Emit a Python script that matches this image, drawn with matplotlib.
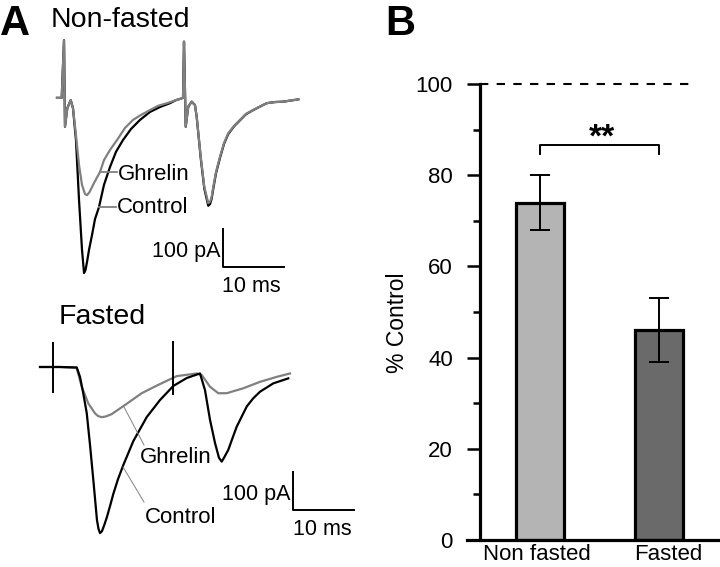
import matplotlib
matplotlib.use("Agg")
import matplotlib.pyplot as plt
from matplotlib.transforms import blended_transform_factory
from matplotlib.lines import Line2D

plt.rcParams['font.family'] = ['Liberation Sans', 'DejaVu Sans']

# ---------------- data ----------------
# Panel A, Non-fasted traces (time in ms, current in pA)
nf_ctrl_t = [0, 0.77, 1.15, 1.31, 1.69, 2.25, 2.62, 3.11, 3.61, 4.10, 4.43, 4.67, 4.92, 5.25, 5.74,
             6.23, 6.89, 7.70, 8.69, 9.67, 10.82, 12.13, 13.61, 15.25, 16.89, 18.52, 19.51, 20.33,
             20.66, 20.82, 21.10, 21.52, 22.08, 22.62, 22.90, 23.56, 24.15, 24.80, 25.10, 25.36,
             25.62, 26.07, 26.72, 27.38, 28.08, 29.02, 30.00, 30.98, 32.18, 33.28, 34.38, 35.74,
             37.10, 39.56]
nf_ctrl_i = [3, 3, 155, -73, -24, -3, -24, -108, -266, -397, -458, -450, -429, -397, -358,
             -316, -284, -226, -179, -139, -108, -79, -55, -34, -21, -11, -3, 1,
             3, 151, -73, -20, -7, -16, -47, -155, -236, -281, -276, -262,
             -236, -195, -155, -118, -92, -72, -56, -40, -29, -20, -11, -8,
             -7, -1]
nf_ghr_t = [0, 0.77, 1.15, 1.31, 1.69, 2.25, 2.62, 3.11, 3.61, 4.10, 4.59, 4.92, 5.33, 6.07,
            7.05, 7.70, 8.69, 9.84, 11.15, 12.46, 13.77, 15.25, 16.56, 18.03, 19.51, 20.33,
            20.66, 20.82, 21.10, 21.52, 22.08, 22.62, 22.90, 23.56, 24.15, 24.80, 25.10, 25.36,
            25.62, 26.07, 26.72, 27.38, 28.08, 29.02, 30.00, 30.98, 32.18, 33.28, 34.38, 35.74,
            37.10, 39.56]
nf_ghr_i = [3, 3, 155, -73, -24, -3, -24, -95, -174, -226, -250, -253, -245, -221,
            -192, -161, -134, -108, -76, -55, -42, -29, -18, -11, -3, 1,
            3, 151, -73, -20, -7, -16, -47, -152, -231, -274, -270, -257,
            -231, -192, -152, -116, -90, -71, -55, -39, -29, -20, -11, -8,
            -7, -1]

# Panel A, Fasted traces
f_ctrl_t = [0, 3.28, 6.02, 6.56, 7.05, 7.66, 8.20, 8.74, 9.34, 9.59, 9.84, 10.16, 10.49, 10.93,
            11.48, 12.02, 12.79, 13.66, 15.30, 17.49, 19.67, 21.85, 24.05, 26.23, 27.05, 27.87,
            28.69, 29.34, 29.79, 30.16, 30.87, 31.56, 32.25, 33.89, 34.92, 36.07, 38.25, 40.70]
f_ctrl_i = [0, 0, -1, -26, -66, -121, -205, -297, -403, -426, -437, -432, -418, -397,
            -366, -334, -295, -258, -195, -132, -87, -50, -29, -17, -61, -139,
            -200, -239, -249, -239, -218, -187, -157, -104, -83, -65, -43, -30]
f_ghr_t = [0, 3.28, 6.02, 6.84, 7.92, 9.02, 9.51, 10.11, 10.82, 11.75, 13.93, 16.67, 19.39,
           22.41, 25.69, 26.51, 27.87, 29.23, 30.61, 33.33, 36.07, 38.80, 40.98]
f_ghr_i = [0, 0, -3, -52, -96, -122, -129, -132, -130, -124, -100, -69, -47,
           -24, -17, -21, -52, -69, -69, -56, -39, -26, -17]
f_artifact_t = [2.08, 21.85]
f_artifact_top = [67, 68]
f_artifact_bot = [-68, -74]

# Panel B
categories = ['Non fasted', 'Fasted']
pct_values = [74, 46]
pct_err_low = [6, 7]
pct_err_high = [6, 7]
bar_colors = ['#b4b4b4', '#6a6a6a']
yticks_major = [0, 20, 40, 60, 80, 100]

# ---------------- figure ----------------
W, H = 720, 567
fig = plt.figure(figsize=(W / 100, H / 100), dpi=100)


def rect(l, t, r, b):
    return [l / W, 1 - b / H, (r - l) / W, (b - t) / H]


def fx(x):
    return x / W


def fy(y):
    return 1 - y / H


PX_MS = 6.1
PX_PA = 0.38


def trace_axes(l, t, r, b, x0, y0):
    ax = fig.add_axes(rect(l, t, r, b))
    ax.set_xlim((l - x0) / PX_MS, (r - x0) / PX_MS)
    ax.set_ylim((y0 - b) / PX_PA, (y0 - t) / PX_PA)
    ax.axis('off')
    return ax


GRAY = '#808080'
LW = 1.6

# Top traces
ax1 = trace_axes(40, 30, 320, 300, 57, 99)
ax1.plot(nf_ctrl_t, nf_ctrl_i, color='black', lw=LW, solid_joinstyle='round')
ax1.plot(nf_ghr_t, nf_ghr_i, color=GRAY, lw=LW, solid_joinstyle='round')
sb_t, sb_i = 27.2, -442
ax1.plot([sb_t, sb_t, sb_t + 10], [sb_i + 100, sb_i, sb_i], color='black', lw=1.4, clip_on=False)

# Bottom traces
ax2 = trace_axes(30, 330, 370, 550, 40, 367)
ax2.plot(f_ghr_t, f_ghr_i, color=GRAY, lw=LW, solid_joinstyle='round')
ax2.plot(f_ctrl_t, f_ctrl_i, color='black', lw=LW, solid_joinstyle='round')
ax2.vlines(f_artifact_t, f_artifact_bot, f_artifact_top, color='black', lw=1.4)
sb2_t, sb2_i = 41.5, -376
ax2.plot([sb2_t, sb2_t, sb2_t + 10], [sb2_i + 100, sb2_i, sb2_i], color='black', lw=1.4, clip_on=False)

# Leader lines (figure pixel coords)
for (xs, ys, lw) in [([100, 117], [172, 172], 1.3), ([99, 116], [207, 207], 1.3),
                     ([124, 144], [407, 445], 0.7), ([123, 144], [467, 502], 0.7)]:
    fig.add_artist(Line2D([fx(x) for x in xs], [fy(y) for y in ys], color=GRAY, lw=lw))

# Panel A texts
fig.text(fx(0), fy(35), 'A', fontsize=30, fontweight='bold', ha='left', va='baseline')
fig.text(fx(51), fy(27), 'Non-fasted', fontsize=20.5, ha='left', va='baseline')
fig.text(fx(59), fy(324), 'Fasted', fontsize=20.5, ha='left', va='baseline')
fig.text(fx(118), fy(180), 'Ghrelin', fontsize=16, ha='left', va='baseline')
fig.text(fx(117), fy(213), 'Control', fontsize=16, ha='left', va='baseline')
fig.text(fx(220), fy(257), '100 pA', fontsize=15.5, ha='right', va='baseline')
fig.text(fx(222), fy(292), '10 ms', fontsize=15.5, ha='left', va='baseline')
fig.text(fx(140), fy(463), 'Ghrelin', fontsize=16, ha='left', va='baseline')
fig.text(fx(145), fy(523), 'Control', fontsize=16, ha='left', va='baseline')
fig.text(fx(291), fy(500), '100 pA', fontsize=15.5, ha='right', va='baseline')
fig.text(fx(293), fy(535), '10 ms', fontsize=15.5, ha='left', va='baseline')

# ---------------- Panel B ----------------
bl, bt, br, bb = 467, 84, 719, 540
axb = fig.add_axes(rect(bl, bt, br, bb))
c0, c1 = 540, 658.5
ppu = c1 - c0
axb.set_xlim(-(c0 - bl) / ppu, (br - c0) / ppu)
axb.set_ylim(0, 100)
xpos = list(range(len(categories)))
axb.bar(xpos, pct_values, width=48 / ppu, color=bar_colors, edgecolor='black', linewidth=2.3, zorder=2)
axb.errorbar(xpos, pct_values, yerr=[pct_err_low, pct_err_high], fmt='none', ecolor='black',
             elinewidth=1.4, capsize=7, capthick=1.4, zorder=3)
axb.plot([(480 - c0) / ppu, (692 - c0) / ppu], [100, 100], color='black', lw=1.5,
         linestyle=(0, (4, 4)), clip_on=False)
axb.plot([0, 0, 1, 1], [84.6, 86.6, 86.6, 84.6], color='black', lw=1.4)
axb.text(0.52, 84.7, '**', fontsize=24, fontweight='bold', ha='center', va='bottom')

for s in ['top', 'right']:
    axb.spines[s].set_visible(False)
axb.spines['left'].set_position(('axes', (480 - bl) / (br - bl)))
axb.spines['left'].set_linewidth(2.3)
axb.spines['bottom'].set_linewidth(2.3)
axb.spines['left'].set_bounds(0, 100)
axb.set_yticks(yticks_major)
axb.set_yticks([10, 30, 50, 70, 90], minor=True)
axb.tick_params(axis='y', which='major', length=9.5, width=1.8, labelsize=16, pad=10)
axb.tick_params(axis='y', which='minor', length=5, width=1.8)
axb.set_xticks([])
trans = blended_transform_factory(axb.transData, axb.transAxes)
label_dx = [-0.025, 0.08]
for i, lab in enumerate(categories):
    axb.text(i + label_dx[i], -0.009, lab, transform=trans, fontsize=16, ha='center', va='top')
fig.text(fx(398), fy(323), '% Control', fontsize=16.5, rotation=90, ha='center', va='center')
fig.text(fx(385), fy(35), 'B', fontsize=30, fontweight='bold', ha='left', va='baseline')

fig.savefig('out.png', dpi=100)
